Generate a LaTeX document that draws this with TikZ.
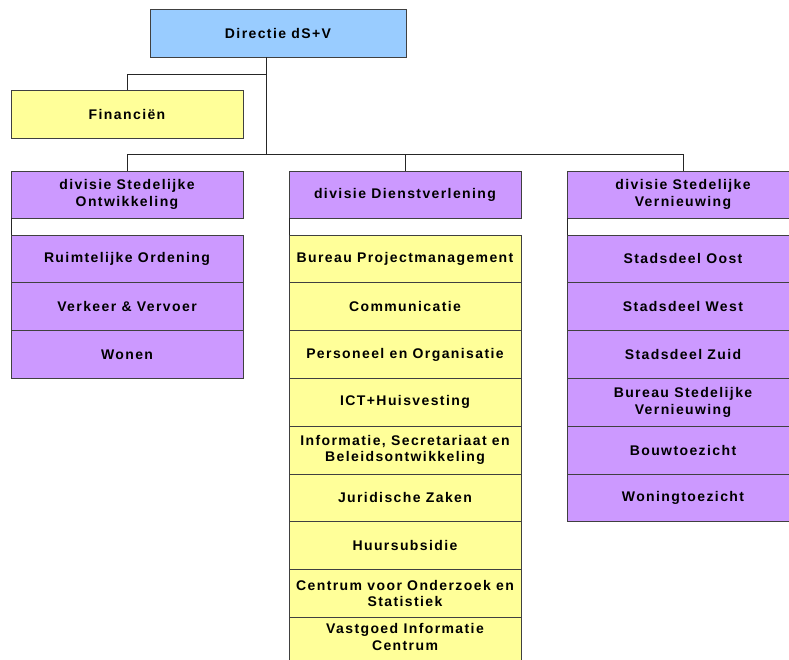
\documentclass[tikz,border=0pt]{standalone}
\usepackage{fontspec}
\setmainfont{Liberation Sans}[LetterSpace=10]
\usepackage{xcolor}
\definecolor{lichtblauw}{RGB}{153, 204, 255}
\definecolor{geel}{RGB}{255, 255, 153}
\definecolor{lila}{RGB}{204, 153, 255}
\usetikzlibrary{positioning}

\begin{document}
\begin{tikzpicture}[x=1pt, y=-1pt,
		box/.style={draw=black!75, line width=0.9pt, minimum width=232, minimum height=48,
			inner sep=0, outer sep=0, align=center,
			font=\fontsize{14}{16.5}\selectfont\bfseries},
		sub/.style={box, minimum height=47.8},
		lijn/.style={draw=black!85, line width=0.9pt}]
			\useasboundingbox (0,0) rectangle (789,659);
			\clip (0,0) rectangle (789,659);
			
			\node [box, fill=lichtblauw, minimum width=256] (dir) at (278,33) {Directie dS+V};
			\coordinate (stam) at (266,57);
			\node [box, fill=geel] (fin) at (127,114) {Financiën};
			
			\node [box, fill=lila, minimum height=47] (so) at (127,194.5) {divisie Stedelijke\\Ontwikkeling};
			\node [box, fill=lila, minimum height=47] (dv) at (405,194.5) {divisie Dienstverlening};
			\node [box, fill=lila, minimum height=47] (sv) at (683,194.5) {divisie Stedelijke\\Vernieuwing};
			
			% divisie Stedelijke Ontwikkeling
			\node [sub, fill=lila, below=17pt of so.south west, anchor=north west] (so1) {Ruimtelijke Ordening};
			\node [sub, fill=lila, below=0pt of so1] (so2) {Verkeer \& Vervoer};
			\node [sub, fill=lila, below=0pt of so2] (so3) {Wonen};
			
			% divisie Dienstverlening
			\node [sub, fill=geel, below=17pt of dv.south west, anchor=north west] (dv1) {Bureau Projectmanagement};
			\node [sub, fill=geel, below=0pt of dv1] (dv2) {Communicatie};
			\node [sub, fill=geel, below=0pt of dv2] (dv3) {Personeel en Organisatie};
			\node [sub, fill=geel, below=0pt of dv3] (dv4) {ICT+Huisvesting};
			\node [sub, fill=geel, below=0pt of dv4] (dv5) {Informatie, Secretariaat en\\Beleidsontwikkeling};
			\node [sub, fill=geel, below=0pt of dv5] (dv6) {Juridische Zaken};
			\node [sub, fill=geel, below=0pt of dv6] (dv7) {Huursubsidie};
			\node [sub, fill=geel, below=0pt of dv7] (dv8) {Centrum voor Onderzoek en\\Statistiek};
			\node [sub, fill=geel, below=0pt of dv8, minimum height=60, text height=31, text depth=25] (dv9) {Vastgoed Informatie\\Centrum};
			
			% divisie Stedelijke Vernieuwing
			\node [sub, fill=lila, below=17pt of sv.south west, anchor=north west] (sv1) {Stadsdeel Oost};
			\node [sub, fill=lila, below=0pt of sv1] (sv2) {Stadsdeel West};
			\node [sub, fill=lila, below=0pt of sv2] (sv3) {Stadsdeel Zuid};
			\node [sub, fill=lila, below=0pt of sv3] (sv4) {Bureau Stedelijke\\Vernieuwing};
			\node [sub, fill=lila, below=0pt of sv4] (sv5) {Bouwtoezicht};
			\node [sub, fill=lila, below=0pt of sv5] (sv6) {Woningtoezicht};
			
			% lijnen
			\draw [lijn] (stam) -- ++(0,17) -| (fin.north);
			\draw [lijn] (stam) -- ++(0,97) coordinate (balk) -| (so.north);
			\draw [lijn] (balk) -| (dv.north);
			\draw [lijn] (balk) -| (sv.north);
			\draw [lijn] (so.south west) -- (so1.north west);
			\draw [lijn] (dv.south west) -- (dv1.north west);
			\draw [lijn] (sv.south west) -- (sv1.north west);
		\end{tikzpicture}
\end{document}
